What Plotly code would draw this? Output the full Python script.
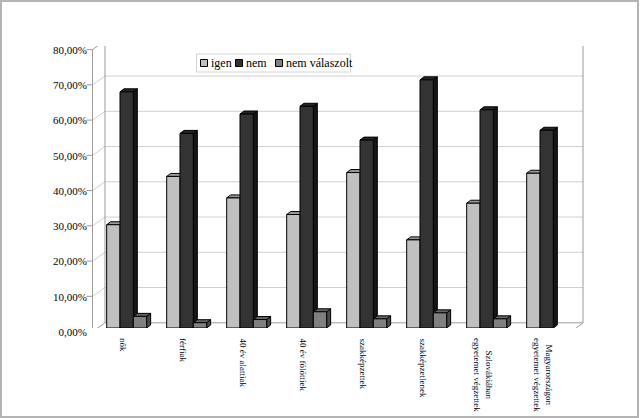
import plotly.graph_objects as go

# ---------------- data ----------------
categories = ["nők", "férfiak", "40 év alattiak", "40 év fölöttiek", "szakképzettek",
              "szakképzetlenek", "Szlovákiában<br>egyetemet végzettek",
              "Magyarországon<br>egyetemet végzettek"]
series_names = ["igen", "nem", "nem válaszolt"]
igen = [0.293, 0.430, 0.369, 0.322, 0.441, 0.250, 0.354, 0.439]
nem = [0.670, 0.552, 0.607, 0.629, 0.533, 0.704, 0.619, 0.561]
nem_valaszolt = [0.033, 0.015, 0.024, 0.046, 0.026, 0.043, 0.026, 0.0]
y_ticks = [0.0, 0.1, 0.2, 0.3, 0.4, 0.5, 0.6, 0.7, 0.8]

# ---------------- styling / geometry ----------------
FIG_W, FIG_H = 640, 418
L, R, T, B = 96, 64, 46, 90
W = FIG_W - L - R           # 480
H = FIG_H - T - B           # 282
Y_MAX = 0.8
FONT = "Liberation Serif"

front_cols = ["#c0c0c0", "#333333", "#808080"]
top_cols = ["#9a9a9a", "#262626", "#666666"]
side_cols = ["#7a7a7a", "#161616", "#4a4a4a"]
offsets = [-0.322, -0.100, 0.122]   # front-left edge of each series bar (category units)
bar_w = 0.222
cat_px = W / len(categories)
ddx = 4.0 / cat_px                   # 3D depth, horizontal (category units)
ddy = 3.0 * Y_MAX / H                # 3D depth, vertical (data units)


def px_x(px):
    return (px - L) / W


def px_y(py):
    return (T + H - py) / H


def dpx(p):
    return p * Y_MAX / H


FRONT_LEFT, FRONT_RIGHT = 92.5, 571.7
BACK_LEFT, BACK_RIGHT = 105.0, 583.0
FDY = -dpx(3.6)
BDY = dpx(5.2)
GRID = "#cfcfcf"
FRAME = "#9a9a9a"

fig = go.Figure()

all_series = [igen, nem, nem_valaszolt]
for s, vals in enumerate(all_series):
    fx, fyv, tx, ty, sx, sy = [], [], [], [], [], []
    for c, v in enumerate(vals):
        if v <= 0:
            continue
        x0 = c + offsets[s]
        x1 = x0 + bar_w
        fx += [x0, x1, x1, x0, x0, None]
        fyv += [0, 0, v, v, 0, None]
        tx += [x0, x0 + ddx, x1 + ddx, x1, x0, None]
        ty += [v, v + ddy, v + ddy, v, v, None]
        sx += [x1, x1 + ddx, x1 + ddx, x1, x1, None]
        sy += [0, ddy, v + ddy, v, 0, None]
    for xs, ys, col in [(sx, sy, side_cols[s]), (tx, ty, top_cols[s]), (fx, fyv, front_cols[s])]:
        fig.add_trace(go.Scatter(x=xs, y=ys, mode="lines", fill="toself", fillcolor=col,
                                 line=dict(color="#000000", width=1), hoverinfo="skip",
                                 showlegend=False, name=series_names[s]))

shapes = []
# outer border
shapes.append(dict(type="rect", xref="paper", yref="paper",
                   x0=px_x(1), x1=px_x(638), y0=px_y(417), y1=px_y(1),
                   line=dict(color="#b4b4b4", width=2), layer="below"))
for t in y_ticks:
    col = FRAME if t in (y_ticks[0], y_ticks[-1]) else GRID
    shapes.append(dict(type="line", xref="paper", yref="y", x0=px_x(BACK_LEFT), x1=px_x(BACK_RIGHT),
                       y0=t + BDY, y1=t + BDY, line=dict(color=col, width=1), layer="below"))
    shapes.append(dict(type="line", xref="paper", yref="y", x0=px_x(FRONT_LEFT), x1=px_x(BACK_LEFT),
                       y0=t + FDY, y1=t + BDY, line=dict(color=col, width=1), layer="below"))
    shapes.append(dict(type="line", xref="paper", yref="y", x0=px_x(FRONT_LEFT - 6), x1=px_x(FRONT_LEFT),
                       y0=t + FDY, y1=t + FDY, line=dict(color=FRAME, width=1), layer="below"))
# walls verticals
for xv, dy in [(BACK_LEFT, BDY), (BACK_RIGHT, BDY), (FRONT_LEFT, FDY)]:
    shapes.append(dict(type="line", xref="paper", yref="y", x0=px_x(xv), x1=px_x(xv),
                       y0=y_ticks[0] + dy, y1=y_ticks[-1] + dy, line=dict(color=FRAME, width=1), layer="below"))
# floor front & right edges
shapes.append(dict(type="line", xref="paper", yref="y", x0=px_x(FRONT_LEFT), x1=px_x(FRONT_RIGHT),
                   y0=FDY, y1=FDY, line=dict(color=FRAME, width=1), layer="below"))
shapes.append(dict(type="line", xref="paper", yref="y", x0=px_x(FRONT_RIGHT), x1=px_x(BACK_RIGHT),
                   y0=FDY, y1=BDY, line=dict(color=FRAME, width=1), layer="below"))
n = len(categories)
for k in range(n + 1):
    xk = FRONT_LEFT + k * (FRONT_RIGHT - FRONT_LEFT) / n
    shapes.append(dict(type="line", xref="paper", yref="y", x0=px_x(xk), x1=px_x(xk),
                       y0=FDY, y1=FDY - dpx(7), line=dict(color=GRID, width=1), layer="below"))

annotations = []
# category labels, rotated, centred lines (as in the original)
for c, lab in enumerate(categories):
    annotations.append(dict(xref="x", yref="paper", x=c, y=px_y(336), xshift=-3,
                            xanchor="center", yanchor="top", textangle=90, align="center",
                            text=lab, showarrow=False,
                            font=dict(family=FONT, size=9, color="#000000")))

# manual compact legend (Excel style)
shapes.append(dict(type="rect", xref="paper", yref="paper", x0=px_x(196.5), x1=px_x(350.5),
                   y0=px_y(72), y1=px_y(54), line=dict(color="#d4d4d4", width=1),
                   fillcolor="white", layer="below"))
leg_sw = [200.5, 235.5, 275.5]
for s, name in enumerate(series_names):
    shapes.append(dict(type="rect", xref="paper", yref="paper", x0=px_x(leg_sw[s]), x1=px_x(leg_sw[s] + 7),
                       y0=px_y(66.5), y1=px_y(59.5), fillcolor=front_cols[s],
                       line=dict(color="#000000", width=1), layer="above"))
    annotations.append(dict(xref="paper", yref="paper", x=px_x(leg_sw[s] + 8), y=px_y(63),
                            xanchor="left", yanchor="middle", text=name, showarrow=False,
                            font=dict(family=FONT, size=12, color="#000000")))

fig.update_layout(
    width=FIG_W, height=FIG_H,
    margin=dict(l=L, r=R, t=T, b=B, autoexpand=False),
    paper_bgcolor="white", plot_bgcolor="white",
    separators=", ",
    showlegend=False,
    shapes=shapes,
    annotations=annotations,
    font=dict(family=FONT, size=11, color="#000000"),
    xaxis=dict(range=[-0.5, n - 0.5], showticklabels=False,
               showgrid=False, zeroline=False, showline=False, ticks="",
               automargin=False, fixedrange=True),
    yaxis=dict(range=[0, Y_MAX], tickmode="array", tickvals=y_ticks, tickformat=".2%",
               showgrid=False, zeroline=False, showline=False, ticks="",
               ticklabelstandoff=8, ticklabelshift=4, fixedrange=True, automargin=False,
               tickfont=dict(family=FONT, size=11, color="#000000")),
)

fig.write_html("out.html")
